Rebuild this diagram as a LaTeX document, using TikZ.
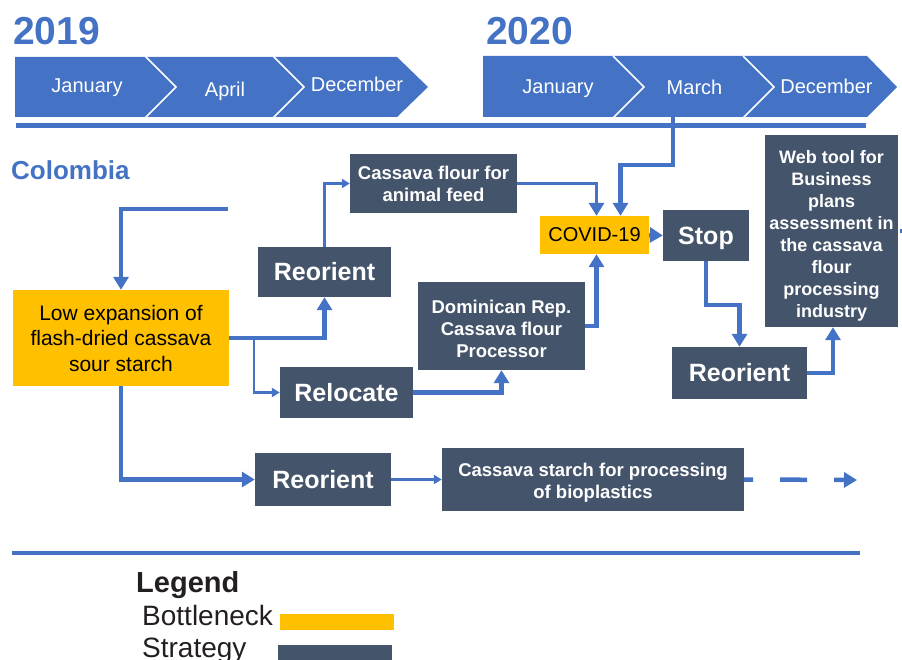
\documentclass[tikz,border=0pt]{standalone}
\usepackage{fontspec}
\setmainfont{Liberation Sans}
\usetikzlibrary{arrows.meta}
\definecolor{tlblue}{HTML}{4472C4}
\definecolor{slate}{HTML}{44546A}
\definecolor{amber}{HTML}{FFC000}
\definecolor{ink}{HTML}{231F20}
\begin{document}
\begin{tikzpicture}[x=1pt,y=-1pt,
  strat/.style={fill=slate,text=white,inner sep=0pt,align=center},
  bneck/.style={fill=amber,text=black,inner sep=0pt,align=center},
  month/.style={text=white,font=\fontsize{20}{24}\selectfont,anchor=base,inner sep=0pt},
  year/.style={text=tlblue,font=\fontsize{39}{44}\selectfont\bfseries,anchor=base west,inner sep=0pt},
  conn/.style={draw=tlblue,line width=4.5pt,-{Triangle[width=15pt,length=13pt]}},
  thin/.style={draw=tlblue,line width=2.5pt,-{Triangle[width=9pt,length=8pt]}}]
\useasboundingbox (0,0) rectangle (902,660);
% timeline
\node[year] (y19) at (13,45) {2019};
\node[year] (y20) at (486,45) {2020};
\fill[tlblue] (15,57) -- (397,57) -- (428,87) -- (397,117) -- (15,117) -- cycle;
\fill[tlblue] (483,56) -- (867,56) -- (897,87) -- (867,117) -- (483,117) -- cycle;
\foreach \x in {145,273,613,743}
  \draw[white,line width=1.5pt] (\x,56) -- ++(31,31) -- ++(-31,31);
\node[month] (jan19) at (87,93) {January};
\node[month] (apr19) at (225,97) {April};
\node[month] (dec19) at (357,92) {December};
\node[month] (jan20) at (558,94) {January};
\node[month] (mar20) at (694.5,95) {March};
\node[month] (dec20) at (826.5,94) {December};
\draw[tlblue,line width=4.5pt] (16,125.5) -- (866,125.5);
\node[anchor=base west,inner sep=0pt,text=tlblue,font=\fontsize{26}{30}\selectfont\bfseries] (col) at (11,180) {Colombia};
% boxes
\node[bneck,minimum width=216pt,minimum height=96pt,font=\fontsize{21}{25.5}\selectfont] (low) at (121,338) {Low expansion of\\flash-dried cassava\\sour starch};
\node[strat,minimum width=133pt,minimum height=50pt,font=\fontsize{25}{30}\selectfont\bfseries] (ro1) at (324.5,272) {Reorient};
\node[strat,minimum width=133pt,minimum height=51pt,font=\fontsize{25}{30}\selectfont\bfseries] (reloc) at (346.5,392.5) {Relocate};
\node[strat,minimum width=167pt,minimum height=59pt,font=\fontsize{18.5}{22}\selectfont\bfseries] (feed) at (433.5,183.5) {Cassava flour for\\animal feed};
\node[bneck,minimum width=109pt,minimum height=38pt,font=\fontsize{20}{24}\selectfont] (covid) at (594.5,235) {COVID-19};
\node[strat,minimum width=167pt,minimum height=88pt,font=\fontsize{18.5}{22}\selectfont\bfseries] (dom) at (501.5,326) {\rule{0pt}{19pt}Dominican Rep.\\Cassava flour\\Processor};
\node[strat,minimum width=86pt,minimum height=51pt,text depth=0pt,font=\fontsize{25}{30}\selectfont\bfseries] (stop) at (706,235.5) {Stop};
\node[strat,minimum width=135pt,minimum height=52pt,font=\fontsize{25}{30}\selectfont\bfseries] (ro2) at (739.5,373) {Reorient};
\node[strat,minimum width=133pt,minimum height=192pt,font=\fontsize{18}{21.9}\selectfont\bfseries] (web) at (831.5,231) {\rule{0pt}{23pt}Web tool for\\Business\\plans\\assessment in\\the cassava\\flour\\processing\\industry};
\node[strat,minimum width=136pt,minimum height=53pt,font=\fontsize{25}{30}\selectfont\bfseries] (ro3) at (323,479.5) {Reorient};
\node[strat,minimum width=302pt,minimum height=63pt,font=\fontsize{18.5}{22}\selectfont\bfseries] (starch) at (593,479.5) {\rule{0pt}{20pt}Cassava starch for processing\\of bioplastics};
% connectors
\coordinate (colstart) at (228,209);
\coordinate (marchbot) at (673,117);
\coordinate (br) at (254,338);
\draw[conn] (colstart) -| (low.north);
\draw[conn] (low.east) -| (ro1.south);
\draw[thin] (br) |- (reloc.west);
\draw[thin] (ro1.north) |- (feed.west);
\draw[conn,line width=3.5pt] (feed.east) -| ([xshift=2pt]covid.north);
\draw[conn] (marchbot) -- ++(0,48) -| ([xshift=26pt]covid.north);
\draw[conn] (reloc.east) -| (dom.south);
\draw[conn] (dom.east) -| ([xshift=2pt]covid.south);
\draw[conn] (covid.east) -- (stop.west);
\draw[conn] (stop.south) -- ++(0,44) -| (ro2.north);
\draw[conn] (ro2.east) -| ([xshift=1.5pt]web.south);
\draw[tlblue,line width=4.5pt] ([xshift=2pt]web.east) -- ++(6,0);
\draw[conn] (low.south) |- (ro3.west);
\draw[thin] (ro3.east) -- (starch.west);
\draw[conn,dash pattern=on 27pt off 27pt,dash phase=18pt] (starch.east) -- (857,480);
\draw[tlblue,line width=4pt] (12,553) -- (860,553);
% legend
\node[anchor=base west,inner sep=0pt,text=ink,font=\fontsize{29}{34}\selectfont\bfseries] (leg) at (136,592) {Legend};
\node[anchor=base west,inner sep=0pt,text=ink,font=\fontsize{28}{32}\selectfont] (bn) at (142,625) {Bottleneck};
\node[anchor=base west,inner sep=0pt,text=ink,font=\fontsize{28}{32}\selectfont] (st) at (142,657) {Strategy};
\fill[amber] (280,614) rectangle (394,630);
\fill[slate] (278,645) rectangle (392,660);
\end{tikzpicture}
\end{document}
